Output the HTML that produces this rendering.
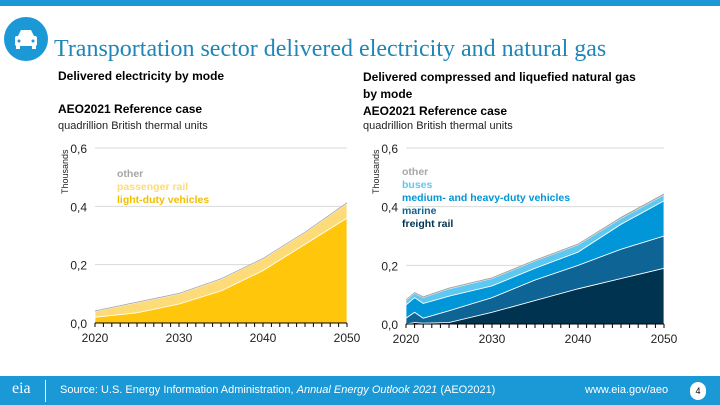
<!DOCTYPE html>
<html><head><meta charset="utf-8"><style>
body{margin:0;width:720px;height:405px;overflow:hidden;background:#fff;font-family:"Liberation Sans",sans-serif;position:relative}
.abs{position:absolute}
.t{font-size:12px;font-weight:bold;color:#000}
.u{font-size:11px;color:#222}
</style></head><body>
<div class="abs" style="left:0;top:0;width:720px;height:6px;background:#1b98d6"></div>
<div class="abs" style="left:4px;top:17px;width:44px;height:44px;border-radius:50%;background:#1b98d6">
<svg width="44" height="44"><rect x="11" y="19" width="22" height="10" rx="2" fill="#fff"/><path d="M14 19 L17 13 H27 L30 19Z" fill="#fff"/><rect x="12" y="28" width="4" height="4" fill="#fff"/><rect x="28" y="28" width="4" height="4" fill="#fff"/><circle cx="15" cy="24" r="1.5" fill="#1b98d6"/><circle cx="29" cy="24" r="1.5" fill="#1b98d6"/></svg></div>
<div class="abs" style="left:54px;top:36px;font-family:'Liberation Serif',serif;font-size:24px;color:#1e86b8;white-space:nowrap">Transportation sector delivered electricity and natural gas</div>
<div class="abs t" style="left:58px;top:69px">Delivered electricity by mode</div>
<div class="abs t" style="left:58px;top:102px">AEO2021 Reference case</div>
<div class="abs u" style="left:58px;top:120px">quadrillion British thermal units</div>
<div class="abs t" style="left:363px;top:69px;line-height:17px">Delivered compressed and liquefied natural gas<br>by mode<br>AEO2021 Reference case</div>
<div class="abs u" style="left:363px;top:120px">quadrillion British thermal units</div>
<svg class="abs" style="left:0;top:0" width="720" height="405" id="svg"></svg>
<div class="abs" style="left:0;top:376px;width:720px;height:29px;background:#1b98d6"></div>
<div class="abs" style="left:12px;top:380px;color:#fff;font-size:16px;font-family:'Liberation Serif',serif">eia</div>
<div class="abs" style="left:45px;top:380px;width:1px;height:22px;background:#fff"></div>
<div class="abs" style="left:60px;top:384px;color:#fff;font-size:11px">Source: U.S. Energy Information Administration, <i>Annual Energy Outlook 2021</i> (AEO2021)</div>
<div class="abs" style="left:585px;top:384px;color:#fff;font-size:11px">www.eia.gov/aeo</div>
<div class="abs" style="left:690px;top:382px;width:16px;height:18px;border-radius:8px;background:#fff;font-size:9px;text-align:center;line-height:18px">4</div>
<script>
const leftYears=[2020,2025,2030,2035,2040,2045,2050];
const ldv=[0.02,0.035,0.065,0.11,0.18,0.27,0.36];
const passRail=[0.02,0.035,0.035,0.04,0.04,0.04,0.05];
const elecOther=[0.003,0.003,0.003,0.003,0.003,0.003,0.004];
const rightYears=[2020,2021,2022,2025,2030,2035,2040,2045,2050];
const freightRail=[0.0,0.005,0.003,0.005,0.04,0.08,0.12,0.155,0.19];
const marine=[0.02,0.035,0.017,0.04,0.05,0.07,0.08,0.1,0.11];
const mhdv=[0.045,0.05,0.05,0.05,0.04,0.04,0.045,0.085,0.12];
const buses=[0.015,0.015,0.02,0.025,0.025,0.025,0.025,0.02,0.02];
const gasOther=[0.004,0.004,0.004,0.004,0.004,0.004,0.004,0.005,0.005];
const yTicks=["0,0","0,2","0,4","0,6"];
const xTicks=[2020,2030,2040,2050];
const NS="http://www.w3.org/2000/svg";
const svg=document.getElementById('svg');
function mk(t,a){const e=document.createElementNS(NS,t);for(const k in a)e.setAttribute(k,a[k]);svg.appendChild(e);return e;}
function chart(name,x0,x1,y0,y1,years,series,colors,names){
 const X=v=>x0+(v-2020)/30*(x1-x0), Y=v=>y0-(v/0.6)*(y0-y1);
 yTicks.forEach((t,i)=>{const v=i*0.2;
  if(i>0){const g=mk('line',{x1:x0,x2:x1,y1:Y(v),y2:Y(v),stroke:'#d9d9d9'});
  }
  const tx=mk('text',{x:x0-8,y:Y(v)+5,'text-anchor':'end','font-size':12,fill:'#222'});tx.textContent=t;
  });
 let base=years.map(()=>0);
 series.forEach((s,si)=>{const top=base.map((b,i)=>b+s[i]);
  let d='M'+years.map((y,i)=>X(y)+','+Y(top[i])).join('L');
  for(let i=years.length-1;i>=0;i--)d+='L'+X(years[i])+','+Y(base[i]);
  const p=mk('path',{d:d+'Z',fill:colors[si],stroke:si<series.length-1?'#fff':'none','stroke-width':0.8});
  
  base=top;});
 const ax=mk('line',{x1:x0,x2:x1,y1:y0,y2:y0,stroke:'#000'});
 
 for(let y=2020;y<=2050;y++){const tk=mk('line',{x1:X(y),x2:X(y),y1:y0,y2:y0+4,stroke:'#000'});
  }
 xTicks.forEach(y=>{const tx=mk('text',{x:X(y),y:y0+19,'text-anchor':'middle','font-size':12,fill:'#222'});tx.textContent=y;
  });
 const yl=mk('text',{x:0,y:0,'font-size':9,fill:'#222',transform:`translate(${x0-27},${y1+46}) rotate(-90)`});yl.textContent='Thousands';
 
}
chart('electricity',95,347,323,148,leftYears,[ldv,passRail,elecOther],['#ffc60b','#fddb78','#a6a6a6'],['ldv','passenger-rail','other']);
chart('natural-gas',406,664,324,148,rightYears,[freightRail,marine,mhdv,buses,gasOther],['#003350','#0f6496','#0096d7','#5fc8f0','#a6a6a6'],['freight-rail','marine','mhdv','buses','other']);
function legend(name,x,y,items,step){items.forEach((it,i)=>{const t=mk('text',{x:x,y:y+i*step,'font-size':10.5,'font-weight':'bold',fill:it[1]});t.textContent=it[0];
 });}
legend('electricity',117,177,[['other','#a6a6a6'],['passenger rail','#fddb78'],['light-duty vehicles','#f2be00']],13);
legend('natural-gas',402,175,[['other','#a6a6a6'],['buses','#5fc8f0'],['medium- and heavy-duty vehicles','#0096d7'],['marine','#0f6496'],['freight rail','#003350']],13);
</script>
</body></html>
